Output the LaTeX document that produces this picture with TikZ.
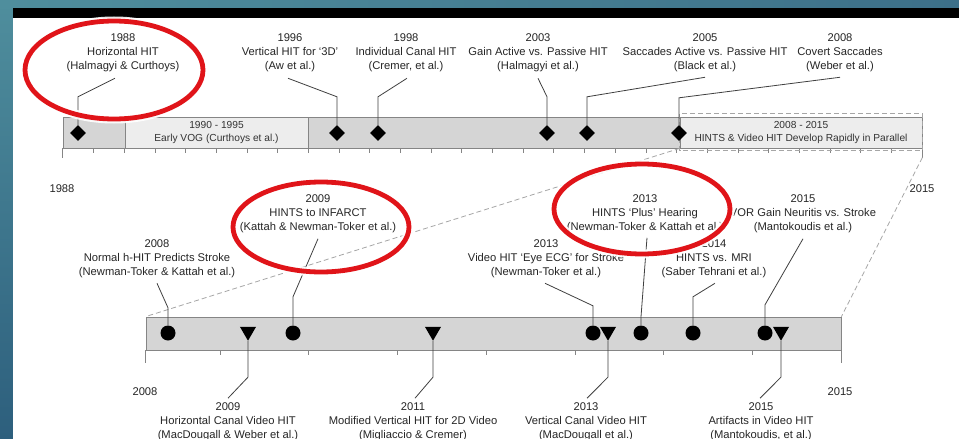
\documentclass[tikz,border=0pt]{standalone}
\usepackage{fontspec}
\setmainfont{Liberation Sans}
\usetikzlibrary{shapes.geometric}

\definecolor{azul1}{HTML}{4F8E9D}
\definecolor{azul2}{HTML}{2D5F7D}
\definecolor{azul3}{HTML}{3D7089}
\definecolor{grisA}{HTML}{D5D5D5}
\definecolor{grisB}{HTML}{EDEDED}
\definecolor{borde}{HTML}{858585}
\definecolor{rojo}{HTML}{E01419}

\newcommand{\fuenteEt}{\fontsize{11.2}{14}\selectfont}
\newcommand{\fuenteBar}{\fontsize{10.2}{13}\selectfont}

\tikzset{
  etiqueta/.style={align=center, inner sep=0pt, font=\fuenteEt, text=black!85},
  anio/.style={inner sep=0pt, font=\fuenteEt, text=black!85},
  tramo/.style={draw=borde, line width=0.8pt, inner sep=0pt, align=center,
    font=\fuenteBar, text=black!80},
  gema/.style={diamond, fill=black, inner sep=0pt, minimum size=16pt},
  punto/.style={circle, fill=black, inner sep=0pt, minimum size=15pt},
  flecha/.style={regular polygon, regular polygon sides=3,
    shape border rotate=180, fill=black, inner sep=0pt, minimum size=18.5pt},
  guia/.style={draw=black!75, line width=0.8pt},
  marca/.style={draw=borde, line width=0.8pt},
  proyeccion/.style={draw=black!35, line width=0.8pt, dash pattern=on 5pt off 3pt},
  aro/.style={draw=rojo, line width=4.8pt,
    preaction={draw=white, line width=9pt, opacity=0.9}}
}

\begin{document}
\begin{tikzpicture}[x=1pt, y=-1pt]

  \useasboundingbox (0,0) rectangle (959,439);

  % Fondo
  \shade[top color=azul1, bottom color=azul2] (0,0) rectangle (959,439);
  \shade[left color=azul1, right color=azul3] (0,0) rectangle (959,8);
  \fill[black] (13,8) rectangle (959,18);
  \fill[white] (13,18) rectangle (959,439);

  % Barra 1988 - 2015
  \node[tramo, fill=grisA, minimum width=62pt, minimum height=31pt]
    (tramoA) at (94,132.5) {};
  \node[tramo, fill=grisB, minimum width=183pt, minimum height=31pt]
    (tramoB) at (216.5,132.5) {1990 - 1995\\Early VOG (Curthoys et al.)};
  \node[tramo, fill=grisA, minimum width=372pt, minimum height=31pt]
    (tramoC) at (494,132.5) {};
  \node[tramo, fill=grisB, minimum width=242pt, minimum height=31pt]
    (tramoD) at (801,132.5) {2008 - 2015\\HINTS \& Video HIT Develop Rapidly in Parallel};

  \foreach \k in {1,...,27}
    \draw[marca] ({63+30.68*\k},148) -- ++(0,5);
  \draw[marca] (tramoA.south west) -- ++(0,10);
  \draw[marca] (tramoD.south east) -- ++(0,10);

  \node[anio] (y1988) at (62,189) {1988};
  \node[anio] (y2015a) at (922,189) {2015};

  % Barra 2008 - 2015
  \node[tramo, fill=grisA, minimum width=695pt, minimum height=33pt]
    (barra2) at (493.5,333.5) {};

  \foreach \k in {1,...,7}
    \draw[marca] ({841-88.7*\k},350) -- ++(0,5);
  \draw[marca] (barra2.south west) -- ++(0,13);
  \draw[marca] (barra2.south east) -- ++(0,13);

  \node[anio] (y2008) at (145,392) {2008};
  \node[anio] (y2015b) at (840,392) {2015};

  % Ampliacion
  \draw[proyeccion]
    ([shift={(0,-3)}]tramoD.north west) rectangle ([shift={(0,2)}]tramoD.south east);
  \draw[proyeccion]
    (tramoD.south west) -- (barra2.north west);
  \draw[proyeccion]
    ([shift={(0,9)}]tramoD.south east) -- (barra2.north east);

  % Hitos 1988 - 2008
  \node[gema] (d88) at (78,133) {};
  \node[gema] (d96) at (337,133) {};
  \node[gema] (d98) at (378,133) {};
  \node[gema] (d03) at (547,133) {};
  \node[gema] (d05) at (587,133) {};
  \node[gema] (d08) at (679,133) {};

  \node[etiqueta] (t88) at (123,53)
    {1988\\Horizontal HIT\\(Halmagyi \& Curthoys)};
  \node[etiqueta] (t96) at (290,53)
    {1996\\Vertical HIT for `3D'\\(Aw et al.)};
  \node[etiqueta] (t98) at (406,53)
    {1998\\Individual Canal HIT\\(Cremer, et al.)};
  \node[etiqueta] (t03) at (538,53)
    {2003\\Gain Active vs. Passive HIT\\(Halmagyi et al.)};
  \node[etiqueta] (t05) at (705,53)
    {2005\\Saccades Active vs. Passive HIT\\(Black et al.)};
  \node[etiqueta] (t08) at (840,53)
    {2008\\Covert Saccades\\(Weber et al.)};

  \draw[guia] (d88.north) -- ++(0,-28) -- ([shift={(-8,6)}]t88.south);
  \draw[guia] (d96.north) -- ++(0,-28) -- ([shift={(-2,6)}]t96.south);
  \draw[guia] (d98.north) -- ++(0,-28) -- ([shift={(1,6)}]t98.south);
  \draw[guia] (d03.north) -- ++(0,-28) -- ([shift={(0,6)}]t03.south);
  \draw[guia] (d05.north) -- ++(0,-28) -- ([shift={(0,5)}]t05.south);
  \draw[guia] (d08.north) -- ++(0,-27) -- ([shift={(0,5)}]t08.south);

  % Hitos 2008 - 2015 (HINTS)
  \node[punto] (c08) at (168,333) {};
  \node[punto] (c09) at (293,333) {};
  \node[punto] (c13a) at (593,333) {};
  \node[punto] (c13b) at (641,333) {};
  \node[punto] (c14) at (693,333) {};
  \node[punto] (c15) at (765,333) {};

  \node[etiqueta] (u08) at (157,259)
    {2008\\Normal h-HIT Predicts Stroke\\(Newman-Toker \& Kattah et al.)};
  \node[etiqueta] (u09) at (318,213.5)
    {2009\\HINTS to INFARCT\\(Kattah \& Newman-Toker et al.)};
  \node[etiqueta] (u13a) at (546,259)
    {2013\\Video HIT `Eye ECG' for Stroke\\(Newman-Toker et al.)};
  \node[etiqueta] (u13b) at (645,213.5)
    {2013\\HINTS `Plus' Hearing\\(Newman-Toker \& Kattah et al.)};
  \node[etiqueta] (u14) at (714,259)
    {2014\\HINTS vs. MRI\\(Saber Tehrani et al.)};
  \node[etiqueta] (u15) at (803,213.5)
    {2015\\VOR Gain Neuritis vs. Stroke\\(Mantokoudis et al.)};

  \draw[guia] (c08.north) -- ++(0,-17.5) -- ([shift={(0,5)}]u08.south);
  \draw[guia] (c09.north) -- ++(0,-28.5) -- ([shift={(0,6)}]u09.south);
  \draw[guia] (c13a.north) -- ++(0,-19.5) -- ([shift={(-1,5)}]u13a.south);
  \draw[guia] (c13b.north) -- ++(0,-8.5) -- ([shift={(2,5)}]u13b.south);
  \draw[guia] (c14.north) -- ++(0,-28.5) -- ([shift={(1,5)}]u14.south);
  \draw[guia] (c15.north) -- ++(0,-20.5) -- ([shift={(0,6)}]u15.south);

  % Hitos 2008 - 2015 (video HIT)
  \node[flecha] (v09) at (248,331.5) {};
  \node[flecha] (v11) at (433,331.5) {};
  \node[flecha] (v13) at (608,331.5) {};
  \node[flecha] (v15) at (781,331.5) {};

  \node[etiqueta] (b09) at (228,421.5)
    {2009\\Horizontal Canal Video HIT\\(MacDougall \& Weber et al.)};
  \node[etiqueta] (b11) at (413,421.5)
    {2011\\Modified Vertical HIT for 2D Video\\(Migliaccio \& Cremer)};
  \node[etiqueta] (b13) at (586,421.5)
    {2013\\Vertical Canal Video HIT\\(MacDougall et al.)};
  \node[etiqueta] (b15) at (761,421.5)
    {2015\\Artifacts in Video HIT\\(Mantokoudis, et al.)};

  \draw[guia] (v09.south) -- ++(0,36) -- ([shift={(0,-4)}]b09.north);
  \draw[guia] (v11.south) -- ++(0,36) -- ([shift={(2,-4)}]b11.north);
  \draw[guia] (v13.south) -- ++(0,36) -- ([shift={(1,-4)}]b13.north);
  \draw[guia] (v15.south) -- ++(0,36) -- ([shift={(-1,-4)}]b15.north);

  % Resaltados
  \draw[aro] (114,70) ellipse [x radius=89pt, y radius=49pt];
  \draw[aro] (321,227) ellipse [x radius=88pt, y radius=45pt];
  \draw[aro] (642,209) ellipse [x radius=88pt, y radius=45pt];

\end{tikzpicture}
\end{document}
